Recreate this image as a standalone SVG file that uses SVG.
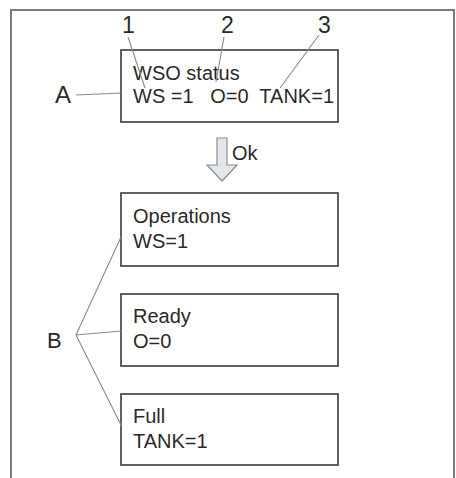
<svg xmlns="http://www.w3.org/2000/svg" width="456" height="478" viewBox="0 0 456 478">
<style>
.t{font-family:"Liberation Sans",Arial,sans-serif;font-size:20px;fill:#2a2a2a}
.lbl{font-family:"Liberation Sans",Arial,sans-serif;font-size:23px;fill:#2a2a2a}
.box{fill:#fff;stroke:#3a3a3a;stroke-width:1.6}
.ld{fill:none;stroke:#8a8a8a;stroke-width:1.1}
</style>
<rect x="0" y="0" width="456" height="478" fill="#fff"/>
<rect id="frame" x="11" y="10" width="443" height="480" fill="none" stroke="#7a7a7a" stroke-width="2"/>
<g id="A">
<rect class="box" x="121" y="50" width="217" height="72"/>
<text class="t" x="133" y="80">WSO status</text>
<text class="t" x="133" y="103" xml:space="preserve">WS =1   O=0  TANK=1</text>
</g>
<g id="operations">
<rect class="box" x="121" y="193" width="217" height="73"/>
<text class="t" x="133" y="223">Operations</text>
<text class="t" x="133" y="248">WS=1</text>
</g>
<g id="ready">
<rect class="box" x="121" y="294" width="217" height="72"/>
<text class="t" x="133" y="323">Ready</text>
<text class="t" x="133" y="348">O=0</text>
</g>
<g id="full">
<rect class="box" x="121" y="394" width="217" height="71"/>
<text class="t" x="133" y="423">Full</text>
<text class="t" x="133" y="448">TANK=1</text>
</g>
<g id="connectors">
<line class="ld" x1="128" y1="37" x2="145" y2="88"/>
<line class="ld" x1="224" y1="37" x2="216" y2="82"/>
<line class="ld" x1="319" y1="35" x2="280" y2="88"/>
<line class="ld" x1="76" y1="95" x2="121" y2="93"/>
<line class="ld" x1="76" y1="335" x2="121" y2="237"/>
<line class="ld" x1="76" y1="335" x2="121" y2="331"/>
<line class="ld" x1="76" y1="335" x2="122" y2="427"/>
<path id="arrow" d="M217 138 H227 V165 H237 L222 181 L207 165 H217 Z" fill="#e3e7ec" stroke="#8e8e8e" stroke-width="1.2"/>
<text class="t" x="232" y="160">Ok</text>
</g>
<g id="labels">
<text class="lbl" x="122" y="33">1</text>
<text class="lbl" x="221" y="33">2</text>
<text class="lbl" x="318" y="33">3</text>
<text class="lbl" x="55" y="103" style="font-size:24px">A</text>
<text class="lbl" x="47" y="348" style="font-size:22px">B</text>
</g>
</svg>
